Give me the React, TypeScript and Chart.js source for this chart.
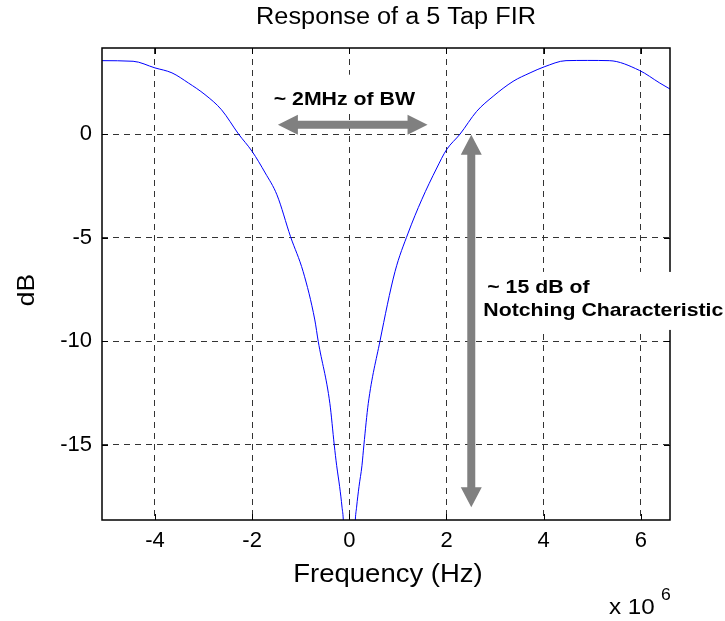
import React, { useEffect, useRef } from "react";
import { Chart, registerables } from "chart.js";

Chart.register(...registerables);

// ---- data (frequency in units of 1e6 Hz, gain in dB) ----
const freqMHz = [
  -5.09, -4.45, -4.0, -3.65, -3.31, -2.97, -2.63, -2.28, -2.0, -1.73, -1.49, -1.21,
  -0.95, -0.71, -0.64, -0.4, -0.31, -0.26, -0.2, -0.15, -0.12, -0.06, 0.0,
  0.06, 0.12, 0.15, 0.2, 0.26, 0.3, 0.39, 0.63, 0.94, 1.21, 1.49, 1.8, 2.0, 2.28, 2.62, 2.96,
  3.37, 3.72, 4.01, 4.46, 4.9, 5.35, 5.97, 6.39, 6.6,
];
const gainDb = [
  3.54, 3.51, 3.19, 2.95, 2.46, 1.9, 1.17, 0.0, -0.84, -1.88, -2.93, -4.95,
  -6.64, -8.97, -10.0, -13.0, -15.0, -16.0, -17.0, -18.0, -18.8, -24.0, -40.0,
  -24.0, -18.8, -18.0, -17.0, -16.0, -15.0, -13.0, -10.0, -6.64, -4.78, -3.17, -1.64, -0.76, 0.0, 1.09, 1.82,
  2.54, 2.95, 3.24, 3.54, 3.55, 3.54, 3.07, 2.46, 2.17,
];
const xTicks = [-4, -2, 0, 2, 4, 6];
const yTicks = [-15, -10, -5, 0];
const X_MIN = -5.09;
const X_MAX = 6.6;
const Y_MIN = -18.62;
const Y_MAX = 4.15;

const titleText = "Response of a 5 Tap FIR";
const xLabelText = "Frequency (Hz)";
const yLabelText = "dB";
const bwLabel = "~ 2MHz of BW";
const notchLabel = ["~ 15 dB of", "Notching Characteristic"];

// annotation anchors in data units
const bwArrow = { x1: -1.47, x2: 1.61, y: 0.45 };
const notchArrow = { x: 2.51, y1: -0.03, y2: -18.0 };

const FONT = '"Liberation Sans", Arial, Helvetica, sans-serif';
const W = 725;
const H = 621;
const PLOT_LEFT = 102;
const PLOT_TOP = 48;
const PLOT_RIGHT = 670;
const PLOT_BOTTOM = 520;
const GRAY = "#808080";

function stretchText(ctx: CanvasRenderingContext2D, text: string, x: number, y: number, font: string, align: CanvasTextAlign, sx: number, baseline: CanvasTextBaseline = "alphabetic") {
  ctx.save();
  ctx.font = font;
  ctx.textAlign = align;
  ctx.textBaseline = baseline;
  ctx.translate(x, y);
  ctx.scale(sx, 1);
  ctx.fillStyle = "#000";
  ctx.fillText(text, 0, 0);
  ctx.restore();
}

function hArrow(ctx: CanvasRenderingContext2D, x1: number, x2: number, y: number) {
  const t = 8, hl = 20, hw = 20;
  ctx.beginPath();
  ctx.moveTo(x1, y);
  ctx.lineTo(x1 + hl, y - hw / 2);
  ctx.lineTo(x1 + hl, y - t / 2);
  ctx.lineTo(x2 - hl, y - t / 2);
  ctx.lineTo(x2 - hl, y - hw / 2);
  ctx.lineTo(x2, y);
  ctx.lineTo(x2 - hl, y + hw / 2);
  ctx.lineTo(x2 - hl, y + t / 2);
  ctx.lineTo(x1 + hl, y + t / 2);
  ctx.lineTo(x1 + hl, y + hw / 2);
  ctx.closePath();
  ctx.fillStyle = GRAY;
  ctx.fill();
}

function vArrow(ctx: CanvasRenderingContext2D, x: number, y1: number, y2: number) {
  const t = 8, hl = 20, hw = 21;
  ctx.beginPath();
  ctx.moveTo(x, y1);
  ctx.lineTo(x + hw / 2, y1 + hl);
  ctx.lineTo(x + t / 2, y1 + hl);
  ctx.lineTo(x + t / 2, y2 - hl);
  ctx.lineTo(x + hw / 2, y2 - hl);
  ctx.lineTo(x, y2);
  ctx.lineTo(x - hw / 2, y2 - hl);
  ctx.lineTo(x - t / 2, y2 - hl);
  ctx.lineTo(x - t / 2, y1 + hl);
  ctx.lineTo(x - hw / 2, y1 + hl);
  ctx.closePath();
  ctx.fillStyle = GRAY;
  ctx.fill();
}

const decor = {
  id: "decor",
  beforeDraw(chart: any) {
    const ctx = chart.ctx as CanvasRenderingContext2D;
    ctx.save();
    ctx.fillStyle = "#fff";
    ctx.fillRect(0, 0, chart.width, chart.height);
    ctx.restore();
  },
  afterDraw(chart: any) {
    const ctx = chart.ctx as CanvasRenderingContext2D;
    const a = chart.chartArea;
    const xs = chart.scales.x;
    const ys = chart.scales.y;
    ctx.save();
    // frame
    ctx.strokeStyle = "#000";
    ctx.lineWidth = 1.5;
    ctx.strokeRect(a.left, a.top, a.right - a.left, a.bottom - a.top);
    // inward ticks
    ctx.lineWidth = 1;
    ctx.beginPath();
    for (const v of xTicks) {
      const px = Math.round(xs.getPixelForValue(v)) + 0.5;
      ctx.moveTo(px, a.bottom); ctx.lineTo(px, a.bottom - 6);
      ctx.moveTo(px, a.top); ctx.lineTo(px, a.top + 6);
    }
    for (const v of yTicks) {
      const py = Math.round(ys.getPixelForValue(v)) + 0.5;
      ctx.moveTo(a.left, py); ctx.lineTo(a.left + 6, py);
      ctx.moveTo(a.right, py); ctx.lineTo(a.right - 6, py);
    }
    ctx.stroke();

    // BW annotation (white box + text)
    const bwCx = xs.getPixelForValue((bwArrow.x1 + bwArrow.x2) / 2) - 2;
    const bwY = ys.getPixelForValue(bwArrow.y);
    ctx.fillStyle = "#fff";
    ctx.fillRect(bwCx - 84, bwY - 50, 175, 35);
    stretchText(ctx, bwLabel, bwCx - 77, bwY - 20, `bold 19px ${FONT}`, "left", 1.12);
    hArrow(ctx, xs.getPixelForValue(bwArrow.x1), xs.getPixelForValue(bwArrow.x2), bwY);

    // notch annotation
    const nx = xs.getPixelForValue(notchArrow.x);
    const ny = ys.getPixelForValue(-8.1);
    ctx.fillStyle = "#fff";
    ctx.fillRect(nx + 9, ny - 30, W - nx - 9, 58);
    stretchText(ctx, notchLabel[0], nx + 16, ny - 9, `bold 19px ${FONT}`, "left", 1.12);
    stretchText(ctx, notchLabel[1], nx + 12, ny + 14, `bold 19px ${FONT}`, "left", 1.12);
    vArrow(ctx, nx, ys.getPixelForValue(notchArrow.y1), ys.getPixelForValue(notchArrow.y2));

    // title and axis labels
    const cx = (a.left + a.right) / 2;
    stretchText(ctx, titleText, cx + 10, 18, `23px ${FONT}`, "center", 1.1, "middle");
    stretchText(ctx, xLabelText, cx + 2, 575, `25px ${FONT}`, "center", 1.1, "middle");
    ctx.save();
    ctx.translate(27, (a.top + a.bottom) / 2 + 6);
    ctx.rotate(-Math.PI / 2);
    stretchText(ctx, yLabelText, 0, 0, `24px ${FONT}`, "center", 1.1, "middle");
    ctx.restore();
    // multiplier
    stretchText(ctx, "x 10", 609, 614, `22px ${FONT}`, "left", 1.1);
    stretchText(ctx, "6", 661, 600, `16px ${FONT}`, "left", 1.1);
    ctx.restore();
  },
};

export default function App() {
  const ref = useRef<HTMLCanvasElement | null>(null);
  useEffect(() => {
    if (!ref.current) return;
    const points = freqMHz.map((f, i) => ({ x: f, y: gainDb[i] }));
    const tickFont = { family: FONT, size: 22 };
    const chart = new Chart(ref.current, {
      type: "line",
      data: {
        datasets: [
          {
            data: points,
            borderColor: "#0000ff",
            borderWidth: 1,
            pointRadius: 0,
            fill: false,
            cubicInterpolationMode: "monotone",
          },
        ],
      },
      options: {
        responsive: false,
        animation: false,
        devicePixelRatio: 1,
        layout: { padding: { left: 0, top: PLOT_TOP, right: W - PLOT_RIGHT, bottom: 0 } },
        plugins: { legend: { display: false }, title: { display: false }, tooltip: { enabled: false } },
        scales: {
          x: {
            type: "linear",
            min: X_MIN,
            max: X_MAX,
            afterBuildTicks: (s: any) => { s.ticks = xTicks.map((v) => ({ value: v })); },
            afterFit: (s: any) => { s.height = H - PLOT_BOTTOM; },
            grid: { color: "#333333", lineWidth: 1, drawTicks: false },
            border: { display: false, dash: [6, 5] },
            ticks: { font: tickFont, color: "#000", padding: 8, maxRotation: 0, autoSkip: false, callback: (v: any) => String(v) },
          },
          y: {
            type: "linear",
            min: Y_MIN,
            max: Y_MAX,
            afterBuildTicks: (s: any) => { s.ticks = yTicks.map((v) => ({ value: v })); },
            afterFit: (s: any) => { s.width = PLOT_LEFT; },
            grid: { color: "#333333", lineWidth: 1, drawTicks: false },
            border: { display: false, dash: [6, 5] },
            ticks: { font: tickFont, color: "#000", padding: 10, autoSkip: false, callback: (v: any) => String(v) },
          },
        },
      } as any,
      plugins: [decor],
    });
    return () => chart.destroy();
  }, []);
  return (
    <div style={{ position: "absolute", left: 0, top: 0, width: W, height: H, background: "#fff" }}>
      <canvas ref={ref} width={W} height={H} style={{ display: "block" }} />
    </div>
  );
}
